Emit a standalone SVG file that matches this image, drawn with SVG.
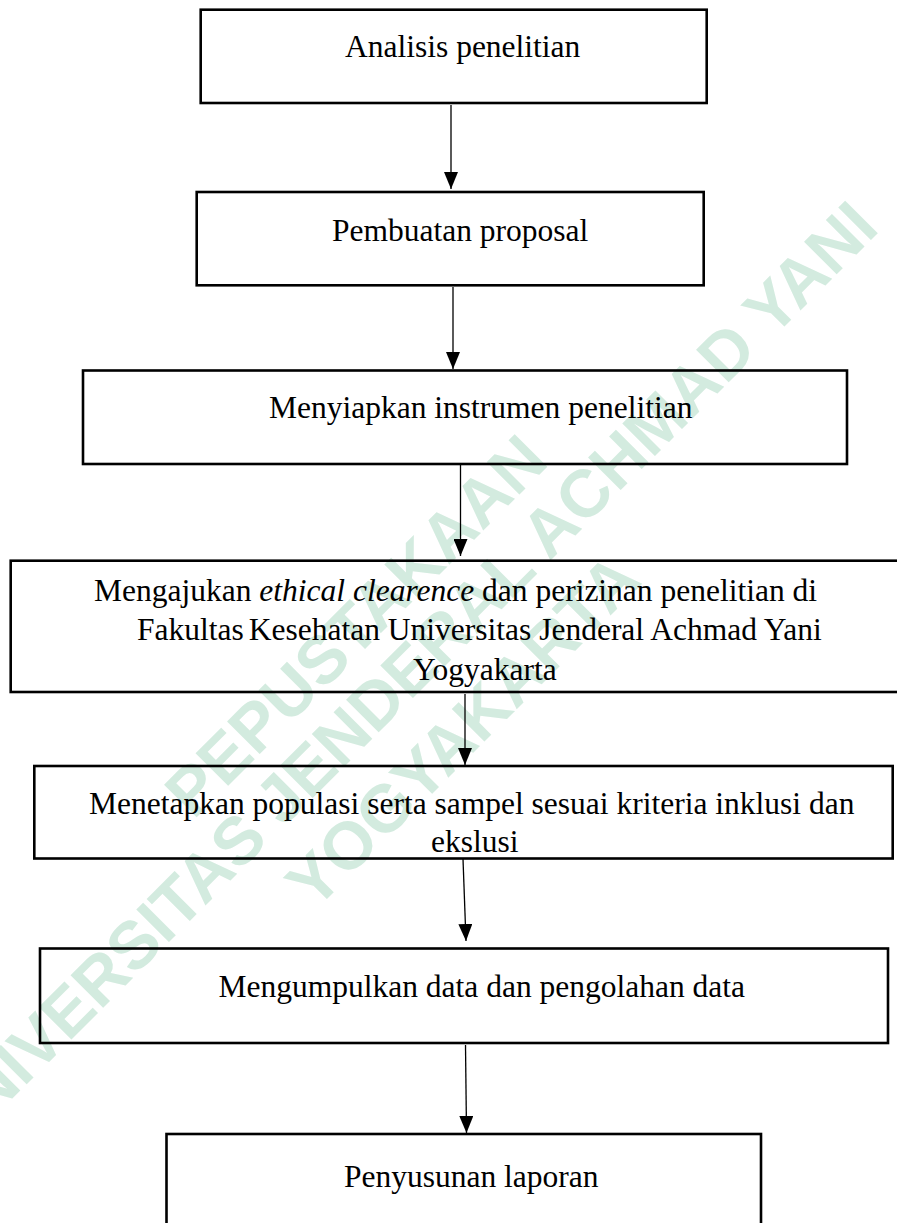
<svg xmlns="http://www.w3.org/2000/svg" width="897" height="1223" viewBox="0 0 897 1223">
<style>
.box{fill:none;stroke:#000;stroke-width:2.6}
.t{font-family:"Liberation Serif","Times New Roman",serif;font-size:31.5px;fill:#000}
.wm{font-family:"Liberation Sans",Arial,sans-serif;font-weight:bold;font-size:67px;fill:#d3ebdf;text-anchor:middle}
.conn{stroke:#000;stroke-width:1.3;fill:none;marker-end:url(#ah)}
</style>
<defs>
<marker id="ah" viewBox="0 0 17 14" refX="17" refY="7" markerWidth="17" markerHeight="14" markerUnits="userSpaceOnUse" orient="auto">
<path d="M0,0 L17,7 L0,14 z" fill="#000"/>
</marker>
</defs>
<rect width="897" height="1223" fill="#fff"/>
<g id="watermark">
<text class="wm" transform="translate(355,625) rotate(-45)" y="24">PEPUSTAKAAN</text>
<text class="wm" transform="translate(401,676) rotate(-45)" y="24">UNIVERSITAS JENDERAL ACHMAD YANI</text>
<text class="wm" transform="translate(462,730) rotate(-45)" y="24">YOGYAKARTA</text>
</g>
<g id="connectors">
<line class="conn" x1="451" y1="105" x2="451" y2="189"/>
<line class="conn" x1="453" y1="287" x2="453" y2="369"/>
<line class="conn" x1="460.5" y1="465" x2="460.5" y2="556"/>
<line class="conn" x1="465" y1="694" x2="465" y2="765"/>
<line class="conn" x1="463" y1="859" x2="466" y2="941"/>
<line class="conn" x1="465.5" y1="1045" x2="466.5" y2="1133"/>
</g>
<g id="n1">
<rect class="box" x="200.7" y="9.7" width="506" height="93.3"/>
<text class="t" x="345" y="57">Analisis penelitian</text>
</g>
<g id="n2">
<rect class="box" x="196.7" y="192" width="507" height="93.3"/>
<text class="t" x="332" y="241">Pembuatan proposal</text>
</g>
<g id="n3">
<rect class="box" x="83" y="370.5" width="764" height="93.5"/>
<text class="t" x="269" y="418">Menyiapkan instrumen penelitian</text>
</g>
<g id="n4">
<rect class="box" x="10.7" y="560.7" width="900" height="131.3"/>
<text class="t" x="94" y="601">Mengajukan <tspan font-style="italic">ethical clearence</tspan> dan perizinan penelitian di</text>
<text class="t" x="137" y="640">Fakultas<tspan dx="5">Kesehatan Universitas Jenderal Achmad Yani</tspan></text>
<text class="t" x="413" y="680">Yogyakarta</text>
</g>
<g id="n5">
<rect class="box" x="34.3" y="766" width="858.4" height="92.5"/>
<text class="t" x="89" y="814">Menetapkan populasi serta sampel sesuai kriteria inklusi dan</text>
<text class="t" x="431" y="852">ekslusi</text>
</g>
<g id="n6">
<rect class="box" x="40" y="948.5" width="848" height="94.5"/>
<text class="t" x="218.5" y="997">Mengumpulkan data dan pengolahan data</text>
</g>
<g id="n7">
<rect class="box" x="166.5" y="1134" width="594.5" height="200"/>
<text class="t" x="344" y="1187">Penyusunan laporan</text>
</g>
</svg>
